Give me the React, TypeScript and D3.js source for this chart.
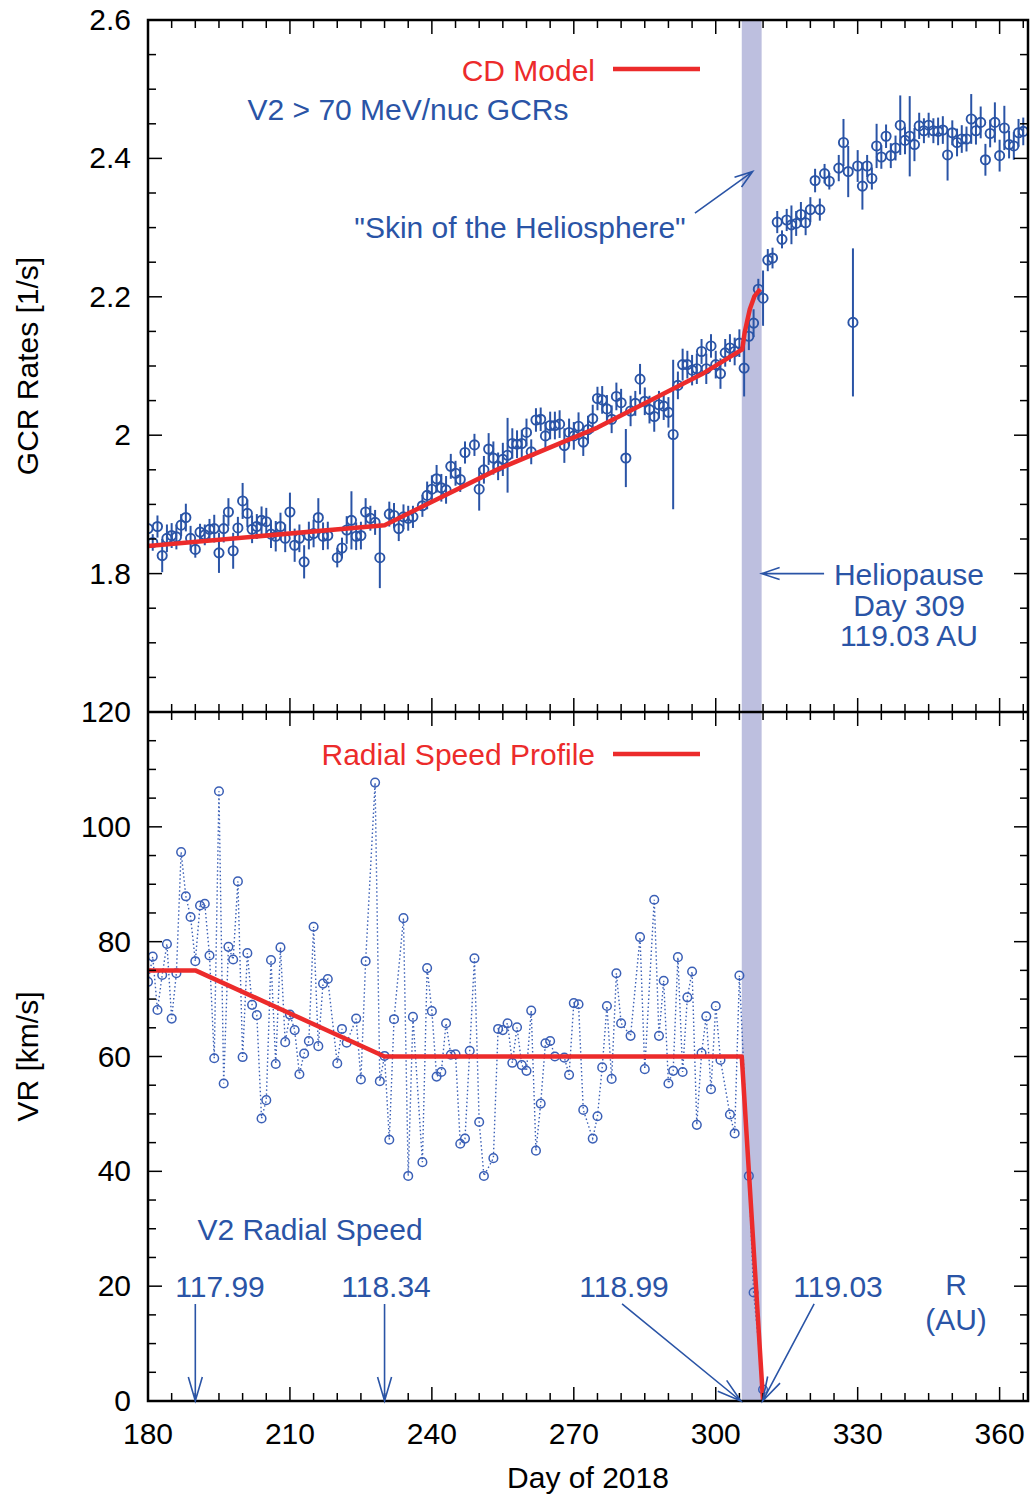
import React from 'react';
import * as d3 from 'd3';

// ---- data ----
// upper panel: V2 > 70 MeV/nuc GCR rates (day, rate, error half-width)
const gcrDays = [180,181,182,183,184,185,186,187,188,189,190,191,192,193,194,195,196,197,198,199,200,201,202,203,204,205,206,207,208,209,210,211,212,213,214,215,216,217,218,220,221,222,223,224,225,226,227,228,229,231,232,233,234,235,236,238,239,240,241,242,243,244,245,246,247,249,250,251,252,253,254,255,256,257,258,259,260,261,262,263,264,265,266,267,268,269,270,271,272,273,274,275,276,277,278,279,280,281,282,283,284,285,286,287,288,289,290,291,292,293,294,295,296,297,298,299,300,301,302,303,304,305,306,307,308,309,310,311,312,313,314,315,316,317,318,319,320,321,322,323,324,326,327,328,329,330,331,332,333,334,335,336,337,338,339,340,341,342,343,344,345,346,347,348,349,350,351,352,353,354,355,356,357,358,359,360,361,362,363,364,365];
const gcrRate = [1.865,1.845,1.868,1.826,1.851,1.855,1.853,1.870,1.881,1.851,1.835,1.860,1.856,1.864,1.865,1.830,1.865,1.889,1.833,1.866,1.905,1.887,1.864,1.868,1.877,1.875,1.857,1.854,1.868,1.851,1.889,1.841,1.851,1.817,1.855,1.858,1.881,1.854,1.855,1.823,1.837,1.863,1.877,1.854,1.855,1.889,1.880,1.874,1.823,1.886,1.884,1.865,1.882,1.880,1.882,1.898,1.913,1.922,1.937,1.924,1.921,1.955,1.945,1.936,1.975,1.986,1.922,1.950,1.980,1.967,1.955,1.965,1.971,1.988,1.987,1.988,2.004,1.976,2.022,2.023,1.999,2.014,2.014,2.016,1.985,2.004,1.999,2.013,1.990,2.008,2.024,2.053,2.051,2.038,2.023,2.056,2.047,1.967,2.035,2.046,2.081,2.049,2.037,2.027,2.044,2.042,2.033,2.001,2.072,2.102,2.102,2.094,2.096,2.121,2.096,2.129,2.102,2.089,2.119,2.126,2.121,2.133,2.097,2.143,2.162,2.211,2.198,2.253,2.256,2.308,2.283,2.311,2.304,2.306,2.319,2.307,2.326,2.368,2.326,2.378,2.367,2.386,2.423,2.381,2.163,2.389,2.360,2.389,2.371,2.418,2.402,2.432,2.404,2.415,2.448,2.426,2.432,2.420,2.447,2.440,2.448,2.440,2.439,2.441,2.405,2.437,2.423,2.428,2.428,2.457,2.440,2.452,2.398,2.436,2.452,2.404,2.444,2.420,2.418,2.437,2.439];
const gcrErr = [0.010,0.012,0.016,0.024,0.020,0.018,0.018,0.016,0.020,0.018,0.012,0.012,0.015,0.015,0.020,0.029,0.020,0.020,0.026,0.016,0.026,0.020,0.020,0.018,0.020,0.020,0.020,0.022,0.020,0.020,0.028,0.024,0.020,0.024,0.020,0.020,0.028,0.020,0.020,0.014,0.015,0.020,0.042,0.020,0.020,0.020,0.018,0.018,0.044,0.018,0.018,0.018,0.018,0.018,0.016,0.016,0.020,0.020,0.020,0.020,0.020,0.018,0.018,0.018,0.016,0.016,0.031,0.020,0.023,0.024,0.020,0.024,0.054,0.022,0.020,0.020,0.020,0.018,0.017,0.017,0.020,0.020,0.020,0.020,0.025,0.020,0.020,0.020,0.020,0.020,0.020,0.017,0.020,0.020,0.020,0.020,0.020,0.042,0.022,0.018,0.022,0.020,0.020,0.022,0.020,0.020,0.022,0.108,0.020,0.023,0.020,0.022,0.022,0.018,0.022,0.017,0.020,0.022,0.020,0.020,0.020,0.020,0.041,0.020,0.020,0.015,0.040,0.016,0.015,0.016,0.013,0.016,0.028,0.018,0.018,0.018,0.018,0.017,0.016,0.014,0.012,0.019,0.034,0.037,0.107,0.023,0.034,0.016,0.016,0.032,0.017,0.017,0.018,0.018,0.043,0.020,0.058,0.024,0.019,0.018,0.018,0.018,0.020,0.020,0.037,0.018,0.020,0.020,0.018,0.036,0.020,0.023,0.023,0.020,0.029,0.023,0.032,0.020,0.020,0.020,0.020];

// CD model curve (knots)
const cdDays = [180, 230, 254, 275, 297, 305.6, 306.1, 307.2, 308.2, 309.4];
const cdRate = [1.840, 1.870, 1.951, 2.011, 2.088, 2.124, 2.148, 2.182, 2.201, 2.211];

// lower panel: V2 radial speed (day, km/s)
const vrDays = [180,181,182,183,184,185,186,187,188,189,190,191,192,193,194,195,196,197,198,199,200,201,202,203,204,205,206,207,208,209,210,211,212,213,214,215,216,217,218,220,221,222,224,225,226,228,229,230,231,232,234,235,236,238,239,240,241,242,243,244,245,246,247,248,249,250,251,253,254,255,256,257,258,259,260,261,262,263,264,265,266,268,269,270,271,272,274,275,276,277,278,279,280,282,284,285,287,288,289,290,291,292,293,294,295,296,297,298,299,300,301,303,304,305,307,308,310];
const vrSpeed = [73.0,77.4,68.1,74.2,79.6,66.6,74.5,95.6,87.9,84.3,76.6,86.3,86.6,77.6,59.7,106.2,55.3,79.1,76.9,90.5,59.9,78.0,69.0,67.2,49.2,52.4,76.8,58.7,79.0,62.5,67.3,64.6,56.9,60.5,62.7,82.6,61.8,72.7,73.5,58.8,64.8,62.4,66.6,56.0,76.6,107.7,55.7,60.1,45.5,66.5,84.1,39.2,66.9,41.6,75.4,67.9,56.5,57.3,65.8,60.3,60.4,44.8,45.7,61.0,77.1,48.6,39.2,42.3,64.8,64.6,65.8,58.9,65.1,58.5,57.5,68.0,43.6,51.8,62.3,62.7,60.0,59.8,56.8,69.3,69.1,50.7,45.7,49.6,58.1,68.8,56.1,74.5,65.8,63.6,80.8,57.8,87.3,63.6,73.2,55.3,57.5,77.3,57.3,70.3,74.8,48.1,60.6,67.0,54.3,68.8,59.4,49.9,46.6,74.1,39.2,18.9,2.0];

// radial speed profile (knots)
const profDays = [180, 190, 230, 305.5, 310];
const profSpeed = [75, 75, 60, 60, 0];

// heliopause crossing band
const bandDays = [305.5, 309.7];

// axis ticks
const xTicks = [180, 210, 240, 270, 300, 330, 360];
const topTicks = [1.8, 2.0, 2.2, 2.4, 2.6];
const botTicks = [0, 20, 40, 60, 80, 100, 120];

const BLUE = '#2a54a6';
const RED = '#ec2b2b';
const FONT = '"Liberation Sans", Arial, Helvetica, sans-serif';

const L = 148, R = 1028, T = 20, MID = 712, B = 1401;

function Arrow({ x1, y1, x2, y2, len = 18, half = 6 }) {
  const a = Math.atan2(y2 - y1, x2 - x1);
  const bx = x2 - len * Math.cos(a), by = y2 - len * Math.sin(a);
  const hx = half * Math.sin(a), hy = -half * Math.cos(a);
  const d = `M${x1},${y1}L${x2},${y2}M${bx + hx},${by + hy}L${x2},${y2}L${bx - hx},${by - hy}`;
  return <path d={d} fill="none" stroke={BLUE} strokeWidth={1.6} />;
}

export default function App() {
  const x = d3.scaleLinear().domain([180, 366]).range([L, R]);
  const yTop = d3.scaleLinear().domain([1.6, 2.6]).range([MID, T]);
  const yBot = d3.scaleLinear().domain([0, 120]).range([B, MID]);

  const cdLine = d3.line<number>().x((d, i) => x(cdDays[i])).y(d => yTop(d));
  const profLine = d3.line<number>().x((d, i) => x(profDays[i])).y(d => yBot(d));
  const vrLine = d3.line<number>().x((d, i) => x(vrDays[i])).y(d => yBot(d));

  const xMinor = d3.range(180, 367, 5);
  const topMinor = d3.range(1.6, 2.6001, 0.05);
  const botMinor = d3.range(0, 120.01, 5);

  const ticks = [];
  // x ticks on both panels
  xMinor.forEach((v, i) => {
    const major = xTicks.includes(v);
    const len = major ? 14 : 8;
    const px = x(v);
    ticks.push(<line key={'xb' + i} x1={px} x2={px} y1={B} y2={B - len} />);
    ticks.push(<line key={'xt' + i} x1={px} x2={px} y1={T} y2={T + len} />);
    ticks.push(<line key={'xm' + i} x1={px} x2={px} y1={MID - len} y2={MID + len} />);
  });
  topMinor.forEach((v, i) => {
    const major = topTicks.some(t => Math.abs(t - v) < 1e-6);
    const len = major ? 14 : 8;
    const py = yTop(v);
    ticks.push(<line key={'tl' + i} x1={L} x2={L + len} y1={py} y2={py} />);
    ticks.push(<line key={'tr' + i} x1={R} x2={R - len} y1={py} y2={py} />);
  });
  botMinor.forEach((v, i) => {
    const major = botTicks.includes(v);
    const len = major ? 14 : 8;
    const py = yBot(v);
    ticks.push(<line key={'bl' + i} x1={L} x2={L + len} y1={py} y2={py} />);
    ticks.push(<line key={'br' + i} x1={R} x2={R - len} y1={py} y2={py} />);
  });

  const txt = { fontFamily: FONT, fontSize: 30 };

  return (
    <svg width={1032} height={1496} style={{ position: 'absolute', left: 0, top: 0, background: '#fff' }}>
      <defs>
        <clipPath id="clipTop"><rect x={L} y={T} width={R - L} height={MID - T} /></clipPath>
        <clipPath id="clipBot"><rect x={L} y={MID} width={R - L} height={B - MID} /></clipPath>
      </defs>
      <rect x={0} y={0} width={1032} height={1496} fill="#fff" />

      {/* heliopause band */}
      <rect x={x(bandDays[0])} y={T} width={x(bandDays[1]) - x(bandDays[0])} height={B - T} fill="#bdbfdf" />

      {/* upper panel data */}
      <g clipPath="url(#clipTop)">
        {gcrRate.map((v, i) => (
          <line key={'e' + i} x1={x(gcrDays[i])} x2={x(gcrDays[i])} y1={yTop(v - gcrErr[i])} y2={yTop(v + gcrErr[i])}
            stroke={BLUE} strokeWidth={2} />
        ))}
        {gcrRate.map((v, i) => (
          <circle key={'c' + i} cx={x(gcrDays[i])} cy={yTop(v)} r={4.6} fill="none" stroke={BLUE} strokeWidth={1.9} />
        ))}
        <path d={cdLine(cdRate) || ''} fill="none" stroke={RED} strokeWidth={4.5} strokeLinejoin="round" />
      </g>

      {/* lower panel data */}
      <g clipPath="url(#clipBot)">
        <path d={vrLine(vrSpeed) || ''} fill="none" stroke="#3a5fb6" strokeWidth={1.4} strokeDasharray="1.5,2.5" />
        {vrSpeed.map((v, i) => (
          <circle key={'v' + i} cx={x(vrDays[i])} cy={yBot(v)} r={4.3} fill="none" stroke="#3a5fb6" strokeWidth={1.5} />
        ))}
        <path d={profLine(profSpeed) || ''} fill="none" stroke={RED} strokeWidth={4.5} strokeLinejoin="round" />
      </g>

      {/* frame and ticks */}
      <g stroke="#000" strokeWidth={1.5}>{ticks}</g>
      <rect x={L} y={T} width={R - L} height={B - T} fill="none" stroke="#000" strokeWidth={2.5} />
      <line x1={L} x2={R} y1={MID} y2={MID} stroke="#000" strokeWidth={2.5} />

      {/* tick labels */}
      <g style={txt} fill="#000">
        {topTicks.map(v => (
          <text key={'tt' + v} x={131} y={yTop(v) + 10} textAnchor="end">{String(+v.toFixed(1))}</text>
        ))}
        {botTicks.map(v => (
          <text key={'bt' + v} x={131} y={yBot(v) + 10} textAnchor="end">{v}</text>
        ))}
        {xTicks.map(v => (
          <text key={'xt' + v} x={x(v)} y={1444} textAnchor="middle">{v}</text>
        ))}
        <text x={(L + R) / 2} y={1488} textAnchor="middle">Day of 2018</text>
        <text transform={`translate(38,${(T + MID) / 2}) rotate(-90)`} textAnchor="middle">GCR Rates [1/s]</text>
        <text transform={`translate(38,${(MID + B) / 2}) rotate(-90)`} textAnchor="middle">VR [km/s]</text>
      </g>

      {/* upper panel annotations */}
      <g style={txt}>
        <text x={595} y={81} textAnchor="end" fill={RED}>CD Model</text>
        <line x1={613} x2={700} y1={69} y2={69} stroke={RED} strokeWidth={4.5} />
        <text x={408} y={120} textAnchor="middle" fill={BLUE}>V2 &gt; 70 MeV/nuc GCRs</text>
        <text x={520} y={238} textAnchor="middle" fill={BLUE}>"Skin of the Heliosphere"</text>
        <text x={909} y={585} textAnchor="middle" fill={BLUE}>Heliopause</text>
        <text x={909} y={616} textAnchor="middle" fill={BLUE}>Day 309</text>
        <text x={909} y={646} textAnchor="middle" fill={BLUE}>119.03 AU</text>
      </g>
      <Arrow x1={x(295.6)} y1={yTop(2.321)} x2={x(307.8)} y2={yTop(2.381)} />
      <Arrow x1={x(322.9)} y1={yTop(1.8)} x2={x(309.7)} y2={yTop(1.8)} />

      {/* lower panel annotations */}
      <g style={txt}>
        <text x={595} y={765} textAnchor="end" fill={RED}>Radial Speed Profile</text>
        <line x1={613} x2={700} y1={754} y2={754} stroke={RED} strokeWidth={4.5} />
        <text x={310} y={1240} textAnchor="middle" fill={BLUE}>V2 Radial Speed</text>
        <text x={220} y={1297} textAnchor="middle" fill={BLUE}>117.99</text>
        <text x={386} y={1297} textAnchor="middle" fill={BLUE}>118.34</text>
        <text x={624} y={1297} textAnchor="middle" fill={BLUE}>118.99</text>
        <text x={838} y={1297} textAnchor="middle" fill={BLUE}>119.03</text>
        <text x={956} y={1295} textAnchor="middle" fill={BLUE}>R</text>
        <text x={956} y={1330} textAnchor="middle" fill={BLUE}>(AU)</text>
      </g>
      <Arrow x1={x(190)} y1={yBot(16.9)} x2={x(190)} y2={yBot(0)} len={24} half={7} />
      <Arrow x1={x(230)} y1={yBot(16.9)} x2={x(230)} y2={yBot(0)} len={24} half={7} />
      <Arrow x1={x(280.2)} y1={yBot(16.9)} x2={x(305.3)} y2={yBot(0)} len={24} half={7} />
      <Arrow x1={x(320.8)} y1={yBot(16.9)} x2={x(309.9)} y2={yBot(0)} len={24} half={7} />
    </svg>
  );
}
